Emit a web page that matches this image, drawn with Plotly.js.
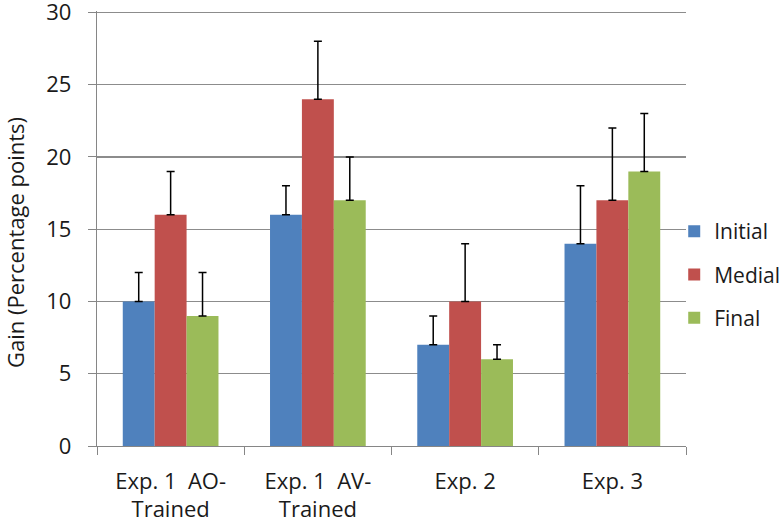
<!DOCTYPE html>
<html><head><meta charset="utf-8">
<script src="https://cdn.plot.ly/plotly-3.0.1.min.js"></script>
<style>html,body{margin:0;padding:0;background:#fff}#chart{width:784px;height:523px}</style>
</head><body><div id="chart"></div>
<script>
const categories = ["Exp. 1  AO-<br>Trained", "Exp. 1  AV-<br>Trained", "Exp. 2", "Exp. 3"];
const seriesNames = ["Initial", "Medial", "Final"];
const initialVals = [10, 16, 7, 14];
const medialVals = [16, 24, 10, 17];
const finalVals = [9, 17, 6, 19];
const initialErr = [2, 2, 2, 4];
const medialErr = [3, 4, 4, 5];
const finalErr = [3, 3, 1, 4];
const colors = ["#4F81BD", "#C0504D", "#9BBB59"];
const yTicks = [0, 5, 10, 15, 20, 25, 30];
const yTitle = 'Gain (Percentage points)';

const vals = [initialVals, medialVals, finalVals];
const errs = [initialErr, medialErr, finalErr];
const traces = seriesNames.map((n, i) => ({
  type: 'bar', name: n, x: categories, y: vals[i], legendgroup: n,
  marker: {color: colors[i], line: {width: 0}},
  error_y: {type: 'data', symmetric: false, array: errs[i], arrayminus: vals[i].map(() => 0),
            color: '#000', thickness: 1.5, width: 4}
}));

const FONT = '"Open Sans", Lato, sans-serif';
const layout = {
  width: 784, height: 523,
  margin: {l: 97, r: 98, t: 11, b: 77, autoexpand: false},
  paper_bgcolor: '#fff', plot_bgcolor: '#fff',
  barmode: 'group', bargap: 0.35, bargroupgap: 0,
  font: {family: FONT, color: '#1a1a1a'},
  xaxis: {type: 'category', tickson: 'boundaries', ticks: 'outside', ticklen: 8, tickcolor: '#868686',
          showline: true, linecolor: '#868686', linewidth: 1.3, showgrid: false,
          ticklabelstandoff: 15,
          tickfont: {family: FONT, size: 22, color: '#1a1a1a'}},
  yaxis: {range: [0, 30.1], tickvals: yTicks, ticks: 'outside', ticklen: 8, tickcolor: '#868686',
          showline: true, linecolor: '#868686', linewidth: 1.3,
          gridcolor: '#8c8c8c', gridwidth: 1.2, zeroline: false,
          ticklabelstandoff: 12, ticklabeloverflow: 'allow',
          tickfont: {family: FONT, size: 22, color: '#1a1a1a'}},
  annotations: [{text: yTitle, textangle: -90, showarrow: false,
                 xref: 'paper', x: 0, xanchor: 'center', xshift: -82,
                 yref: 'paper', y: 0.4667, yanchor: 'middle',
                 font: {family: FONT, size: 22, color: '#1a1a1a'}}],
  legend: {x: 0.98, xanchor: 'left', y: 0.394, yanchor: 'middle', font: {family: FONT, size: 21, color: '#1a1a1a'},
           tracegroupgap: 13, itemwidth: 30, bgcolor: 'rgba(0,0,0,0)'},
  showlegend: true
};
Plotly.newPlot('chart', traces, layout, {displayModeBar: false, staticPlot: true});
</script></body></html>
